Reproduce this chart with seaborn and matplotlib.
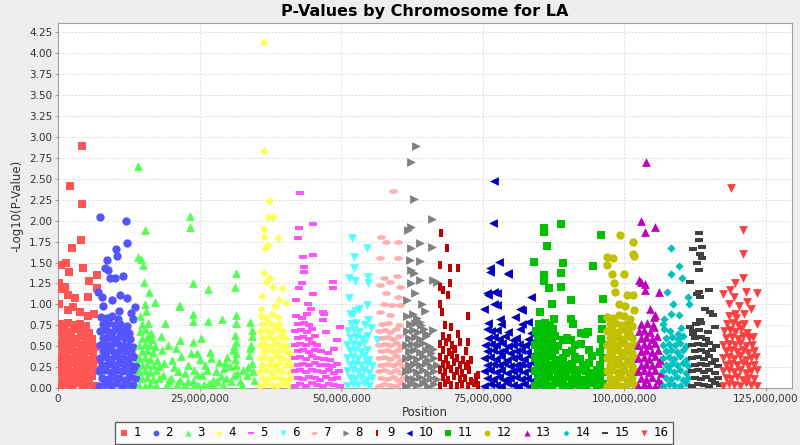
import numpy as np
import pandas as pd
import matplotlib
matplotlib.use("Agg")
import matplotlib.pyplot as plt
import seaborn as sns
from matplotlib.ticker import FuncFormatter, MultipleLocator

# positions in Mb, values are -log10(p); first the standout points, then the dense base
chr1_pos = [4.2, 2.2, 4.3, 4.0, 2.5, 0.5, 1.5, 2.0, 4.5, 6.8, 5.4, 6.8, 0.2, 1.2, 1.8, 5.3, 3.0, 0.2, 3.9, 5.3, 1.8, 7.0, 0.6, 2.7, 6.3,
            0.3, 1.3, 2.4, 3.4, 4.5, 5.5, 6.5,
            0.8, 1.9, 2.9, 4.0, 5.0, 6.0,
            0.2, 1.2, 2.3, 3.3, 4.4, 5.4, 6.6,
            0.7, 1.8, 2.8, 3.9, 4.9, 6.1,
            0.4, 1.4, 2.5, 3.5, 4.6, 5.6, 6.7,
            0.9, 2.0, 3.0, 4.1, 5.1, 6.2,
            0.3, 1.3, 2.4, 3.4, 4.5, 5.6, 6.5,
            0.8, 1.8, 2.9, 4.0, 5.0, 6.0,
            0.2, 1.2, 2.3, 3.3, 4.4, 5.4,
            0.7, 1.7, 2.8, 3.8, 4.9]
chr1_val = [2.89, 2.41, 2.20, 1.77, 1.67, 1.47, 1.49, 1.39, 1.44, 1.35, 1.28, 1.20, 1.25, 1.21, 1.11, 1.09, 1.07, 1.01, 0.91, 0.86, 0.93, 0.21, 1.18, 0.97, 0.88,
            0.03, 0.05, 0.02, 0.06, 0.04, 0.05, 0.03,
            0.12, 0.11, 0.13, 0.12, 0.10, 0.14,
            0.20, 0.21, 0.19, 0.22, 0.20, 0.18, 0.21,
            0.28, 0.27, 0.30, 0.29, 0.27, 0.26,
            0.36, 0.37, 0.35, 0.38, 0.36, 0.34, 0.33,
            0.44, 0.45, 0.43, 0.46, 0.44, 0.42,
            0.52, 0.53, 0.51, 0.54, 0.52, 0.50, 0.49,
            0.60, 0.61, 0.59, 0.62, 0.60, 0.58,
            0.68, 0.69, 0.67, 0.70, 0.68, 0.66,
            0.76, 0.78, 0.75, 0.77, 0.74]

chr2_pos = [7.5, 12.0, 12.1, 10.2, 10.5, 8.6, 8.3, 8.8, 9.2, 10.1, 11.4, 7.7, 11.0, 12.1, 13.6, 7.1, 9.6, 8.0, 10.8, 12.9, 13.3,
            7.3, 8.3, 9.3, 10.3, 11.3, 12.3, 13.3,
            7.8, 8.8, 9.8, 10.8, 11.8, 12.8, 13.8,
            7.3, 8.3, 9.3, 10.3, 11.3, 12.3, 13.3,
            7.8, 8.8, 9.8, 10.8, 11.8, 12.8, 13.8,
            7.4, 8.4, 9.4, 10.4, 11.4, 12.4, 13.4,
            7.9, 8.9, 9.9, 10.9, 11.9, 12.9,
            7.4, 8.4, 9.4, 10.4, 11.4, 12.4, 13.2,
            7.9, 8.9, 9.9, 10.9, 11.9, 12.7,
            7.5, 8.5, 9.5, 10.5, 11.5, 12.5,
            8.0, 9.0, 10.0, 11.0, 12.2,
            7.6, 8.6, 9.6, 10.6]
chr2_val = [2.04, 2.00, 1.73, 1.66, 1.58, 1.53, 1.43, 1.41, 1.31, 1.31, 1.34, 1.09, 1.11, 1.07, 0.97, 1.15, 1.05, 0.98, 0.92, 0.90, 0.82,
            0.03, 0.05, 0.04, 0.06, 0.02, 0.05, 0.04,
            0.12, 0.11, 0.13, 0.12, 0.10, 0.13, 0.12,
            0.20, 0.21, 0.19, 0.22, 0.20, 0.19, 0.21,
            0.28, 0.29, 0.27, 0.30, 0.28, 0.27, 0.26,
            0.36, 0.37, 0.35, 0.38, 0.36, 0.35, 0.37,
            0.44, 0.45, 0.43, 0.46, 0.44, 0.42,
            0.52, 0.53, 0.51, 0.54, 0.52, 0.50, 0.49,
            0.60, 0.61, 0.59, 0.62, 0.60, 0.58,
            0.68, 0.69, 0.67, 0.70, 0.68, 0.66,
            0.76, 0.78, 0.75, 0.77, 0.74,
            0.85, 0.84, 0.86, 0.83]

chr3_pos = [14.2, 23.3, 23.3, 15.4, 14.2, 14.7, 15.0, 15.2, 16.0, 15.4, 17.1, 18.9, 21.4, 23.9, 26.4, 31.5, 31.3, 21.5, 23.9, 23.9,
            26.4, 28.9, 31.4, 31.4, 33.9, 34.2, 21.5, 23.9, 25.2, 26.8, 24.5, 29.8, 31.3, 31.4,
            14.3, 15.3, 16.3, 17.3,
            14.8, 15.8, 16.8, 17.8,
            14.3, 15.3, 16.3, 17.3,
            14.8, 15.8, 16.8, 17.8,
            14.3, 15.3, 16.3, 17.4,
            14.8, 15.8, 16.8,
            14.3, 15.3, 16.3, 17.2,
            14.8, 15.8, 16.6,
            14.4, 15.4, 16.4,
            14.9, 15.9,
            14.5, 15.6,
            18.3, 18.8, 19.4, 19.9, 20.5, 21.0, 21.8, 22.4, 22.9, 23.5,
            24.1, 24.8, 25.4, 26.0, 26.6, 27.3, 27.9, 28.4, 29.1, 29.7,
            30.3, 30.9, 31.2, 31.6, 32.1, 32.7, 33.3, 33.8, 34.2, 34.6,
            18.5, 19.2, 20.1, 20.8, 21.6, 22.2, 23.0, 23.8, 24.5, 25.7,
            26.3, 27.0, 28.0, 28.8, 29.5, 30.6, 31.1, 31.5, 32.4, 33.6,
            34.1, 34.4,
            18.1, 19.6, 21.2, 22.6, 24.2, 25.1, 27.6, 29.3, 31.0, 31.4, 33.9, 34.3]
chr3_val = [2.65, 2.06, 1.92, 1.89, 1.57, 1.54, 1.47, 1.27, 1.15, 1.01, 1.03, 0.78, 0.98, 1.26, 1.18, 1.37, 1.21, 0.98, 0.89, 0.80,
            0.80, 0.83, 0.87, 0.78, 0.79, 0.69, 0.57, 0.55, 0.60, 0.43, 0.42, 0.37, 0.63, 0.55,
            0.04, 0.03, 0.05, 0.04,
            0.12, 0.13, 0.11, 0.12,
            0.20, 0.21, 0.19, 0.22,
            0.28, 0.29, 0.27, 0.26,
            0.36, 0.37, 0.35, 0.34,
            0.44, 0.45, 0.43,
            0.52, 0.53, 0.51, 0.50,
            0.60, 0.61, 0.59,
            0.68, 0.70, 0.66,
            0.76, 0.78,
            0.86, 0.92,
            0.45, 0.30, 0.52, 0.12, 0.25, 0.05, 0.38, 0.18, 0.08, 0.42,
            0.22, 0.04, 0.15, 0.28, 0.06, 0.10, 0.20, 0.31, 0.04, 0.12,
            0.26, 0.45, 0.35, 0.18, 0.08, 0.22, 0.15, 0.40, 0.30, 0.10,
            0.15, 0.05, 0.33, 0.48, 0.10, 0.03, 0.27, 0.09, 0.17, 0.05,
            0.21, 0.36, 0.08, 0.14, 0.30, 0.09, 0.50, 0.28, 0.04, 0.25,
            0.52, 0.20,
            0.62, 0.10, 0.20, 0.03, 0.05, 0.35, 0.02, 0.24, 0.16, 0.42, 0.48, 0.62]

chr4_pos = [36.3, 36.3, 37.3, 37.1, 37.9, 36.3, 36.3, 38.8, 36.5, 37.1, 36.3, 37.4, 36.7, 38.0, 39.5, 36.0, 39.0, 40.2, 38.4, 35.9,
            35.6, 36.6, 37.7, 38.6, 39.5, 40.6,
            36.1, 37.1, 38.1, 39.2, 40.1, 41.0,
            35.6, 36.7, 37.6, 38.6, 39.6, 40.7,
            36.1, 37.2, 38.1, 39.1, 40.2, 41.1,
            35.7, 36.6, 37.6, 38.7, 39.6, 40.6,
            36.2, 37.1, 38.2, 39.1, 40.1, 41.0,
            35.6, 36.6, 37.7, 38.6, 39.6, 40.5,
            36.1, 37.1, 38.1, 39.2, 40.1,
            35.7, 36.7, 37.6, 38.6, 39.7,
            36.1, 37.2, 38.1, 39.1,
            35.8, 36.8, 37.8, 38.8]
chr4_val = [4.14, 2.83, 2.23, 2.04, 2.04, 1.90, 1.81, 1.79, 1.67, 1.71, 1.37, 1.31, 1.27, 1.21, 1.19, 1.10, 1.05, 1.02, 0.98, 0.95,
            0.03, 0.05, 0.04, 0.02, 0.06, 0.04,
            0.12, 0.11, 0.13, 0.12, 0.10, 0.12,
            0.20, 0.21, 0.19, 0.22, 0.20, 0.18,
            0.28, 0.29, 0.27, 0.30, 0.28, 0.26,
            0.36, 0.37, 0.35, 0.38, 0.36, 0.34,
            0.44, 0.45, 0.43, 0.46, 0.44, 0.42,
            0.52, 0.53, 0.51, 0.54, 0.52, 0.50,
            0.60, 0.61, 0.59, 0.62, 0.60,
            0.68, 0.69, 0.67, 0.70, 0.68,
            0.76, 0.78, 0.75, 0.77,
            0.86, 0.84, 0.88, 0.85]

chr5_pos = [42.7, 42.6, 45.0, 42.4, 43.2, 45.1, 43.4, 43.5, 43.0, 42.6, 48.5, 48.5, 45.1, 44.2, 46.8, 47.0, 46.8, 47.4, 49.8, 49.2, 48.8, 42.0, 44.6,
            41.8, 42.8, 43.8, 44.8, 45.8, 46.8, 47.8, 48.8, 49.8,
            42.3, 43.3, 44.3, 45.3, 46.3, 47.3, 48.3, 49.3,
            41.8, 42.8, 43.8, 44.8, 45.8, 46.8, 47.8, 48.8, 49.6,
            42.3, 43.3, 44.3, 45.3, 46.3, 47.3, 48.3, 49.2,
            41.8, 42.8, 43.8, 44.8, 45.8, 46.9, 48.0,
            42.3, 43.3, 44.3, 45.3, 46.4, 47.6,
            41.8, 42.8, 43.8, 44.8, 45.8,
            42.3, 43.3, 44.3, 45.4,
            41.9, 42.9, 43.9, 44.9,
            42.4, 43.4, 44.4,
            42.0, 43.0, 44.0]
chr5_val = [2.33, 1.91, 1.96, 1.79, 1.57, 1.59, 1.45, 1.39, 1.25, 1.20, 1.27, 1.19, 1.12, 1.01, 0.91, 0.89, 0.81, 0.67, 0.73, 0.57, 0.47, 1.05, 0.95,
            0.03, 0.05, 0.02, 0.06, 0.04, 0.03, 0.05, 0.04, 0.02,
            0.12, 0.11, 0.13, 0.12, 0.10, 0.13, 0.11, 0.12,
            0.20, 0.21, 0.19, 0.22, 0.20, 0.19, 0.21, 0.18, 0.20,
            0.28, 0.29, 0.27, 0.30, 0.28, 0.27, 0.26, 0.29,
            0.36, 0.37, 0.35, 0.38, 0.36, 0.35, 0.34,
            0.44, 0.45, 0.43, 0.46, 0.44, 0.42,
            0.52, 0.53, 0.51, 0.54, 0.52,
            0.60, 0.61, 0.59, 0.62,
            0.68, 0.69, 0.67, 0.70,
            0.76, 0.78, 0.75,
            0.86, 0.84, 0.88]

chr6_pos = [51.9, 54.5, 52.3, 52.2, 51.4, 52.4, 54.8, 54.8, 54.5, 54.8, 51.4, 52.0, 56.3, 53.1, 55.2,
            51.0, 52.0, 53.0, 54.0, 55.0,
            51.5, 52.5, 53.5, 54.5, 55.5,
            51.0, 52.0, 53.0, 54.0, 55.0,
            51.5, 52.5, 53.5, 54.5, 55.4,
            51.0, 52.0, 53.0, 54.0, 55.0,
            51.5, 52.5, 53.5, 54.5,
            51.1, 52.1, 53.1, 54.1,
            51.6, 52.6, 53.6, 54.6,
            51.2, 52.2, 53.2,
            51.7, 52.7, 54.2,
            51.5, 52.5]
chr6_val = [1.79, 1.67, 1.57, 1.43, 1.31, 1.28, 1.33, 1.26, 0.99, 0.81, 1.07, 0.88, 0.57, 0.95, 0.72,
            0.03, 0.05, 0.04, 0.06, 0.02,
            0.12, 0.11, 0.13, 0.10, 0.12,
            0.20, 0.21, 0.19, 0.22, 0.18,
            0.28, 0.29, 0.27, 0.30, 0.26,
            0.36, 0.37, 0.35, 0.38, 0.34,
            0.44, 0.45, 0.43, 0.46,
            0.52, 0.53, 0.51, 0.54,
            0.60, 0.61, 0.59, 0.62,
            0.68, 0.69, 0.67,
            0.76, 0.78, 0.75,
            0.88, 0.92]

chr7_pos = [59.1, 57.0, 57.9, 60.1, 56.9, 60.1, 59.8, 57.5, 58.6, 56.9, 60.3, 58.0, 60.1, 57.5, 58.9, 60.3, 56.9, 58.6,
            56.6, 57.6, 58.6, 59.6, 60.6,
            57.1, 58.1, 59.1, 60.1, 61.0,
            56.6, 57.6, 58.6, 59.6, 60.6,
            57.1, 58.1, 59.1, 60.1, 61.0,
            56.6, 57.6, 58.6, 59.6, 60.6,
            57.1, 58.1, 59.1, 60.1,
            56.7, 57.7, 58.7, 59.7, 60.6,
            57.2, 58.2, 59.2, 60.2,
            56.7, 57.7, 58.7, 59.7,
            57.2, 58.2, 60.2]
chr7_val = [2.35, 1.81, 1.75, 1.75, 1.55, 1.55, 1.34, 1.31, 1.27, 1.23, 1.21, 1.13, 1.09, 1.01, 0.99, 0.99, 0.91, 0.87,
            0.03, 0.05, 0.04, 0.02, 0.06,
            0.12, 0.11, 0.13, 0.10, 0.12,
            0.20, 0.21, 0.19, 0.22, 0.18,
            0.28, 0.29, 0.27, 0.30, 0.26,
            0.36, 0.37, 0.35, 0.38, 0.34,
            0.44, 0.45, 0.43, 0.46,
            0.52, 0.53, 0.51, 0.54, 0.50,
            0.60, 0.61, 0.59, 0.62,
            0.68, 0.69, 0.67, 0.70,
            0.76, 0.78, 0.75]

chr8_pos = [63.2, 62.3, 62.8, 66.1, 62.4, 61.8, 63.9, 66.0, 62.4, 62.1, 63.9, 62.4, 62.9, 62.4, 63.9, 66.3, 63.0, 66.9, 64.3, 63.9,
            66.3, 65.2, 66.3, 61.6, 64.8,
            61.4, 62.4, 63.4, 64.4, 65.4, 66.4,
            61.9, 62.9, 63.9, 64.9, 65.9, 66.9,
            61.4, 62.4, 63.4, 64.4, 65.4, 66.4,
            61.9, 62.9, 63.9, 64.9, 65.9, 66.9,
            61.4, 62.4, 63.4, 64.4, 65.4, 66.4,
            61.9, 62.9, 63.9, 64.9, 65.9,
            61.5, 62.5, 63.5, 64.5, 65.5,
            62.0, 63.0, 64.0, 65.0,
            61.6, 62.6, 63.6, 64.6,
            62.1, 63.1, 64.1,
            61.7, 62.7, 63.3]
chr8_val = [2.89, 2.70, 2.26, 2.02, 1.93, 1.89, 1.73, 1.68, 1.67, 1.53, 1.52, 1.41, 1.37, 1.25, 1.29, 1.29, 1.13, 1.27, 1.01, 0.79,
            0.69, 0.65, 0.47, 1.05, 0.92,
            0.03, 0.05, 0.04, 0.06, 0.02, 0.05,
            0.12, 0.11, 0.13, 0.10, 0.12, 0.11,
            0.20, 0.21, 0.19, 0.22, 0.18, 0.20,
            0.28, 0.29, 0.27, 0.30, 0.26, 0.28,
            0.36, 0.37, 0.35, 0.38, 0.34, 0.36,
            0.44, 0.45, 0.43, 0.46, 0.42,
            0.52, 0.53, 0.51, 0.54, 0.50,
            0.60, 0.61, 0.59, 0.62,
            0.68, 0.69, 0.67, 0.70,
            0.76, 0.78, 0.75,
            0.86, 0.88, 0.84]

chr9_pos = [67.6, 68.6, 67.4, 69.2, 70.7, 69.2, 67.4, 68.0, 68.9, 67.4, 67.8, 72.4, 68.3, 69.4, 70.7, 70.9, 72.4, 70.1, 72.0, 73.0, 74.2, 72.4,
            67.4, 68.4, 69.4, 70.4, 71.4, 72.4, 73.4, 74.2,
            67.9, 68.9, 69.9, 70.9, 71.9, 72.9, 73.8,
            67.4, 68.4, 69.4, 70.4, 71.4, 72.5,
            67.9, 68.9, 69.9, 70.9, 72.0,
            67.5, 68.5, 69.5, 70.5, 71.5,
            68.0, 69.0, 70.0,
            67.5, 68.5, 69.6,
            68.0, 69.1]
chr9_val = [1.85, 1.67, 1.47, 1.43, 1.43, 1.25, 1.21, 1.17, 1.11, 1.01, 0.91, 0.86, 0.75, 0.73, 0.65, 0.55, 0.55, 0.47, 0.44, 0.33, 0.15, 0.29,
            0.03, 0.06, 0.04, 0.02, 0.05, 0.03, 0.06, 0.04,
            0.13, 0.10, 0.14, 0.11, 0.12, 0.09, 0.13,
            0.21, 0.19, 0.23, 0.20, 0.18, 0.22,
            0.29, 0.27, 0.31, 0.28, 0.26,
            0.37, 0.35, 0.39, 0.36, 0.34,
            0.45, 0.43, 0.47,
            0.53, 0.55, 0.51,
            0.62, 0.60]

chr10_pos = [77.0, 76.8, 77.8, 76.2, 79.4, 75.8, 77.0, 77.6, 76.9, 77.6, 75.2, 81.6, 76.0, 76.3, 79.5, 83.6, 80.7, 81.9, 75.7, 78.3, 83.0, 80.3,
             75.3, 76.3, 77.3, 78.3, 79.3, 80.3, 81.3, 82.3, 83.3,
             75.8, 76.8, 77.8, 78.8, 79.8, 80.8, 81.8, 82.8, 83.8,
             75.3, 76.3, 77.3, 78.3, 79.3, 80.3, 81.3, 82.3, 83.3,
             75.8, 76.8, 77.8, 78.8, 79.8, 80.8, 81.8, 82.8, 83.8,
             75.3, 76.3, 77.3, 78.3, 79.3, 80.3, 81.3, 82.3, 83.3,
             75.8, 76.8, 77.8, 78.8, 79.8, 80.8, 81.8, 82.8,
             75.4, 76.4, 77.4, 78.4, 79.4, 80.4, 81.4, 82.4, 83.4,
             75.9, 76.9, 77.9, 78.9, 80.9, 82.9,
             76.5, 77.5, 79.5, 81.5, 83.5,
             76.0, 78.0, 82.0]
chr10_val = [2.47, 1.97, 1.51, 1.43, 1.36, 1.13, 1.15, 1.13, 1.01, 0.99, 0.94, 0.95, 1.11, 1.39, 1.37, 1.09, 0.85, 0.93, 0.71, 0.77, 0.79, 0.57,
             0.03, 0.05, 0.04, 0.02, 0.06, 0.04, 0.03, 0.05, 0.02,
             0.12, 0.11, 0.13, 0.10, 0.12, 0.13, 0.11, 0.12, 0.10,
             0.20, 0.21, 0.19, 0.22, 0.18, 0.20, 0.21, 0.19, 0.22,
             0.28, 0.29, 0.27, 0.30, 0.26, 0.28, 0.29, 0.27, 0.30,
             0.36, 0.37, 0.35, 0.38, 0.34, 0.36, 0.37, 0.35, 0.38,
             0.44, 0.45, 0.43, 0.46, 0.42, 0.44, 0.45, 0.43,
             0.52, 0.53, 0.51, 0.54, 0.50, 0.52, 0.53, 0.51, 0.54,
             0.60, 0.61, 0.59, 0.62, 0.60, 0.58,
             0.68, 0.69, 0.67, 0.70, 0.66,
             0.78, 0.82, 0.76]

chr11_pos = [88.8, 85.8, 85.8, 86.3, 95.8, 84.0, 89.1, 94.4, 85.8, 88.8, 85.8, 86.7, 88.8, 87.2, 90.5, 96.2, 85.1, 90.5, 87.5, 93.6,
             89.2, 90.5, 96.0, 96.0,
             84.2, 85.2, 86.2, 87.2, 88.2, 89.2, 90.2, 91.2, 92.2, 93.2, 94.2, 95.2, 96.2,
             84.7, 85.7, 86.7, 87.7, 88.7, 89.7, 90.7, 91.7, 92.7, 93.7, 94.7, 95.7,
             84.2, 85.2, 86.2, 87.2, 88.2, 89.2, 90.2, 91.2, 92.2, 93.2, 94.2, 95.2, 96.2,
             84.7, 85.7, 86.7, 87.7, 88.7, 89.7, 90.7, 92.7, 93.7, 95.7,
             84.2, 85.2, 86.2, 87.2, 88.2, 89.2, 91.2, 92.2, 94.2, 96.2,
             84.7, 85.7, 86.7, 87.7, 89.7, 90.7, 93.7, 95.7,
             84.3, 85.3, 86.3, 87.3, 88.3, 91.3, 92.3, 96.3,
             84.8, 85.8, 86.8, 87.8, 89.8, 95.8,
             84.4, 85.4, 86.4, 87.4, 92.4, 93.0,
             84.9, 85.9, 86.9, 91.0]
chr11_val = [1.96, 1.91, 1.86, 1.70, 1.83, 1.51, 1.50, 1.46, 1.35, 1.37, 1.28, 1.20, 1.21, 1.00, 1.05, 1.06, 0.91, 0.83, 0.83, 0.67,
             0.57, 0.57, 0.83, 0.71,
             0.03, 0.05, 0.04, 0.02, 0.06, 0.04, 0.03, 0.05, 0.02, 0.04, 0.06, 0.03, 0.05,
             0.12, 0.11, 0.13, 0.10, 0.12, 0.13, 0.11, 0.12, 0.10, 0.13, 0.11, 0.12,
             0.20, 0.21, 0.19, 0.22, 0.18, 0.20, 0.21, 0.19, 0.22, 0.20, 0.18, 0.21, 0.19,
             0.28, 0.29, 0.27, 0.30, 0.26, 0.28, 0.29, 0.27, 0.30, 0.28,
             0.36, 0.37, 0.35, 0.38, 0.34, 0.36, 0.37, 0.35, 0.38, 0.36,
             0.44, 0.45, 0.43, 0.46, 0.42, 0.44, 0.45, 0.43,
             0.52, 0.53, 0.51, 0.54, 0.50, 0.52, 0.53, 0.51,
             0.60, 0.61, 0.59, 0.62, 0.60, 0.58,
             0.68, 0.69, 0.67, 0.70, 0.66, 0.64,
             0.76, 0.78, 0.75, 0.77]

chr12_pos = [99.2, 101.6, 101.7, 97.0, 98.0, 96.9, 97.9, 99.9, 98.1, 98.3, 100.4, 101.6, 99.0, 101.7, 101.6, 100.2,
             96.9, 97.9, 98.9, 99.9, 100.9, 101.9,
             97.4, 98.4, 99.4, 100.4, 101.4,
             96.9, 97.9, 98.9, 99.9, 100.9, 101.9,
             97.4, 98.4, 99.4, 100.4, 101.4,
             96.9, 97.9, 98.9, 99.9, 100.9, 101.9,
             97.4, 98.4, 99.4, 100.4, 101.4,
             96.9, 97.9, 98.9, 99.9, 100.9, 101.8,
             97.4, 98.4, 99.4, 100.4, 101.4,
             96.9, 97.9, 98.9, 99.9, 100.9,
             97.4, 98.4, 99.4, 100.4, 101.4,
             97.0, 98.0, 99.0, 100.0, 101.0]
chr12_val = [1.83, 1.74, 1.58, 1.56, 1.55, 1.47, 1.36, 1.36, 1.26, 1.15, 1.11, 1.11, 1.01, 0.93, 1.60, 0.98,
             0.03, 0.05, 0.04, 0.02, 0.06, 0.04,
             0.12, 0.11, 0.13, 0.10, 0.12,
             0.20, 0.21, 0.19, 0.22, 0.18, 0.20,
             0.28, 0.29, 0.27, 0.30, 0.26,
             0.36, 0.37, 0.35, 0.38, 0.34, 0.36,
             0.44, 0.45, 0.43, 0.46, 0.42,
             0.52, 0.53, 0.51, 0.54, 0.50, 0.52,
             0.60, 0.61, 0.59, 0.62, 0.60,
             0.68, 0.69, 0.67, 0.70, 0.66,
             0.76, 0.78, 0.75, 0.77, 0.74,
             0.85, 0.84, 0.87, 0.86, 0.83]

chr13_pos = [103.8, 103.0, 103.6, 105.4, 103.0, 103.6, 106.2, 105.3, 105.3, 102.5, 103.6, 105.4, 104.5,
             102.4, 103.4, 104.4, 105.4, 106.4,
             102.9, 103.9, 104.9, 105.9,
             102.4, 103.4, 104.4, 105.4, 106.4,
             102.9, 103.9, 104.9, 105.9,
             102.4, 103.4, 104.4, 105.4, 106.3,
             102.9, 103.9, 104.9, 105.9,
             102.4, 103.4, 104.4, 105.4,
             102.9, 103.9, 104.9, 105.8,
             102.5, 103.5, 104.5,
             103.0, 104.0, 105.0]
chr13_val = [2.70, 2.00, 1.87, 1.92, 1.27, 1.24, 1.15, 0.85, 0.73, 1.29, 1.17, 0.87, 0.95,
             0.03, 0.05, 0.04, 0.02, 0.06,
             0.12, 0.11, 0.13, 0.10,
             0.20, 0.21, 0.19, 0.22, 0.18,
             0.28, 0.29, 0.27, 0.30,
             0.36, 0.37, 0.35, 0.38, 0.34,
             0.44, 0.45, 0.43, 0.46,
             0.52, 0.53, 0.51, 0.54,
             0.60, 0.61, 0.59, 0.62,
             0.68, 0.69, 0.67,
             0.76, 0.78, 0.75]

chr14_pos = [108.3, 109.7, 108.3, 110.1, 107.6, 111.3, 108.6, 111.4, 108.3, 107.0, 109.7, 106.9, 109.4,
             106.8, 107.8, 108.8, 109.8, 110.8,
             107.3, 108.3, 109.3, 110.3, 111.3,
             106.8, 107.8, 108.8, 109.8, 110.8,
             107.3, 108.3, 109.3, 110.3, 111.3,
             106.8, 107.8, 108.8, 109.8, 110.8,
             107.3, 108.3, 109.3, 110.3,
             106.9, 107.9, 108.9, 109.9, 110.9,
             107.4, 108.4, 109.4, 110.4,
             107.0, 108.0, 110.0]
chr14_val = [1.67, 1.46, 1.36, 1.32, 1.15, 1.09, 1.01, 1.01, 0.89, 0.83, 0.87, 0.77, 0.65,
             0.03, 0.05, 0.04, 0.02, 0.06,
             0.12, 0.11, 0.13, 0.10, 0.12,
             0.20, 0.21, 0.19, 0.22, 0.18,
             0.28, 0.29, 0.27, 0.30, 0.26,
             0.36, 0.37, 0.35, 0.38, 0.34,
             0.44, 0.45, 0.43, 0.46,
             0.52, 0.53, 0.51, 0.54, 0.50,
             0.60, 0.61, 0.59, 0.62,
             0.70, 0.68, 0.72]

chr15_pos = [113.1, 113.1, 113.7, 112.2, 113.3, 113.7, 112.8, 113.1, 111.6, 115.0, 113.1, 113.3, 112.8, 115.2, 115.6, 111.6, 113.3, 116.0, 112.2, 114.2,
             112.0, 113.0, 114.0, 115.0, 116.0, 116.9,
             112.5, 113.5, 114.5, 115.5, 116.5,
             112.0, 113.0, 114.0, 115.0, 116.0,
             112.5, 113.5, 114.5, 115.5, 116.5,
             112.0, 113.0, 114.0, 115.0, 116.0,
             112.5, 113.5, 114.5, 115.5,
             112.0, 113.0, 114.0, 115.0, 116.2,
             112.5, 113.5, 114.5,
             112.1, 113.1, 114.8,
             112.6, 113.6]
chr15_val = [1.85, 1.77, 1.69, 1.66, 1.60, 1.55, 1.49, 1.41, 1.27, 1.17, 1.15, 1.09, 1.12, 0.91, 0.87, 0.73, 0.81, 0.73, 0.65, 0.95,
             0.03, 0.05, 0.04, 0.02, 0.06, 0.04,
             0.12, 0.11, 0.13, 0.10, 0.12,
             0.20, 0.21, 0.19, 0.22, 0.18,
             0.28, 0.29, 0.27, 0.30, 0.26,
             0.36, 0.37, 0.35, 0.38, 0.34,
             0.44, 0.45, 0.43, 0.46,
             0.52, 0.53, 0.51, 0.54, 0.50,
             0.60, 0.61, 0.59,
             0.68, 0.69, 0.67,
             0.76, 0.78]

chr16_pos = [118.8, 120.9, 120.9, 120.9, 119.5, 121.5, 123.4, 117.5, 118.7, 119.3, 121.7, 118.4, 123.4, 119.5, 122.8, 122.3, 120.2,
             117.4, 118.4, 119.4, 120.4, 121.4, 122.4, 123.4,
             117.9, 118.9, 119.9, 120.9, 121.9, 122.9,
             117.4, 118.4, 119.4, 120.4, 121.4, 122.4, 123.4,
             117.9, 118.9, 119.9, 120.9, 121.9, 122.9,
             117.4, 118.4, 119.4, 120.4, 121.4, 122.4, 123.3,
             117.9, 118.9, 119.9, 120.9, 121.9, 122.9,
             117.5, 118.5, 119.5, 120.5, 121.5, 122.5,
             118.0, 119.0, 120.0, 121.0, 122.0,
             117.6, 118.6, 119.6, 120.6, 121.6,
             118.1, 119.1, 120.1, 121.1,
             118.5, 119.8, 121.2]
chr16_val = [2.39, 1.89, 1.60, 1.31, 1.25, 1.15, 1.13, 1.12, 1.17, 1.09, 1.03, 1.01, 0.77, 0.88, 0.61, 0.95, 0.98,
             0.03, 0.05, 0.04, 0.02, 0.06, 0.04, 0.03,
             0.12, 0.11, 0.13, 0.10, 0.12, 0.11,
             0.20, 0.21, 0.19, 0.22, 0.18, 0.20, 0.21,
             0.28, 0.29, 0.27, 0.30, 0.26, 0.28,
             0.36, 0.37, 0.35, 0.38, 0.34, 0.36, 0.37,
             0.44, 0.45, 0.43, 0.46, 0.42, 0.44,
             0.52, 0.53, 0.51, 0.54, 0.50, 0.52,
             0.60, 0.61, 0.59, 0.62, 0.60,
             0.68, 0.69, 0.67, 0.70, 0.66,
             0.76, 0.78, 0.75, 0.77,
             0.86, 0.84, 0.88]

chrom_pos = [chr1_pos, chr2_pos, chr3_pos, chr4_pos, chr5_pos, chr6_pos, chr7_pos, chr8_pos,
             chr9_pos, chr10_pos, chr11_pos, chr12_pos, chr13_pos, chr14_pos, chr15_pos, chr16_pos]
chrom_val = [chr1_val, chr2_val, chr3_val, chr4_val, chr5_val, chr6_val, chr7_val, chr8_val,
             chr9_val, chr10_val, chr11_val, chr12_val, chr13_val, chr14_val, chr15_val, chr16_val]

# JFreeChart-like series colours and shapes
colors = ["#ff5555", "#5555ff", "#55ff55", "#ffff55", "#ff55ff", "#55ffff", "#ffafaf", "#808080",
          "#c00000", "#0000c0", "#00c000", "#c0c000", "#c000c0", "#00c0c0", "#404040", "#ff4040"]
hrect = [(-1, -0.45), (1, -0.45), (1, 0.45), (-1, 0.45)]
vrect = [(-0.45, -1), (0.45, -1), (0.45, 1), (-0.45, 1)]
ang = np.linspace(0, 2 * np.pi, 25)
ellipse = list(zip(np.cos(ang), 0.55 * np.sin(ang)))
markers = ["s", "o", "^", "D", hrect, "v", ellipse, ">", vrect, "<", "s", "o", "^", "D", hrect, "v"]
sizes = [32, 36, 40, 18, 40, 40, 40, 40, 40, 40, 32, 36, 40, 18, 40, 40]

frames = []
for i, (p, v) in enumerate(zip(chrom_pos, chrom_val)):
    assert len(p) == len(v), (i + 1, len(p), len(v))
    frames.append(pd.DataFrame({"pos": np.array(p) * 1e6, "logp": v, "chr": str(i + 1)}))
df = pd.concat(frames, ignore_index=True)

plt.rcParams["font.family"] = ["DejaVu Sans"]
fig = plt.figure(figsize=(8, 4.45), dpi=100, facecolor="#eeeeee")
ax = fig.add_axes([0.0725, 0.128, 0.9175, 0.82])
ax.set_facecolor("white")

for i in range(16):
    sub = df[df["chr"] == str(i + 1)]
    sns.scatterplot(data=sub, x="pos", y="logp", ax=ax, color=colors[i], marker=markers[i],
                    s=sizes[i], linewidth=0, label=str(i + 1), zorder=3)

ax.set_xlim(0, 129.6e6)
ax.set_ylim(0, 4.36)
ax.xaxis.set_major_locator(MultipleLocator(25e6))
ax.xaxis.set_major_formatter(FuncFormatter(lambda x, _: f"{int(round(x)):,}"))
ax.yaxis.set_major_locator(MultipleLocator(0.25))
ax.yaxis.set_major_formatter(FuncFormatter(lambda y, _: f"{y:.2f}"))
ax.grid(True, color="#d4d4d4", linestyle=(0, (2, 2)), linewidth=0.6, zorder=0)
ax.set_axisbelow(True)
for sp in ax.spines.values():
    sp.set_color("#a0a0a0")
    sp.set_linewidth(0.8)
ax.tick_params(labelsize=7.5, length=2, color="#a0a0a0", labelcolor="#333333", pad=2)

ax.set_title("P-Values by Chromosome for LA", fontsize=11.5, fontweight="bold", pad=5)
ax.set_xlabel("Position", fontsize=8.5, color="#333333", labelpad=2)
ax.set_ylabel("-Log10(P-Value)", fontsize=8.5, color="#333333", labelpad=4)

handles, labels = ax.get_legend_handles_labels()
ax.get_legend().remove()
leg = fig.legend(handles, labels, loc="center", bbox_to_anchor=(0.4925, 0.027), ncol=16,
                 fontsize=8.5, frameon=True, fancybox=False, edgecolor="#333333",
                 handlelength=0.8, handletextpad=0.4, columnspacing=0.85, borderpad=0.35,
                 markerscale=0.7)
leg.get_frame().set_linewidth(0.9)

fig.savefig("out.png", dpi=100, facecolor=fig.get_facecolor())
